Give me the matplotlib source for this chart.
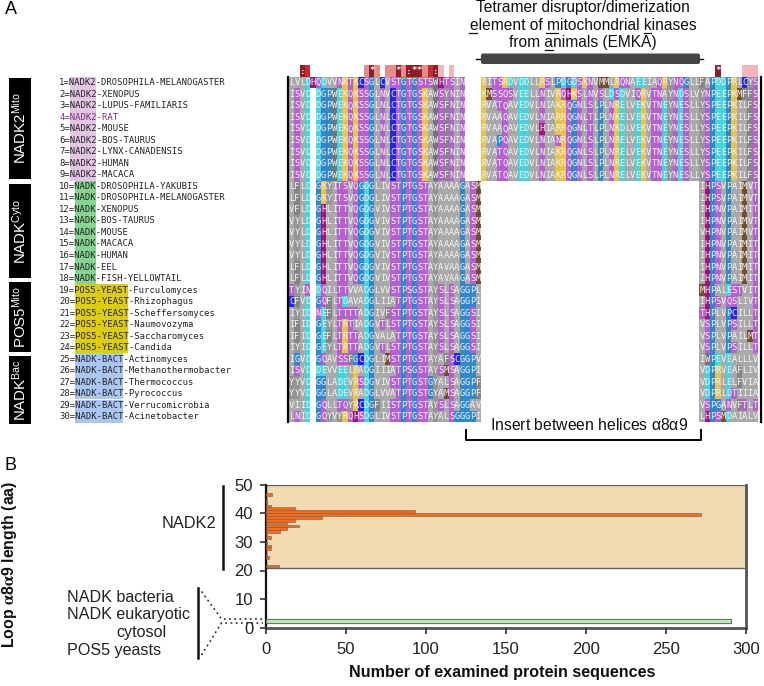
import matplotlib
matplotlib.use("Agg")
import matplotlib.pyplot as plt
from matplotlib.colors import ListedColormap
from matplotlib.patches import Rectangle, FancyBboxPatch
import numpy as np

plt.rcParams['font.family'] = ['Liberation Sans', 'DejaVu Sans']
plt.rcParams['mathtext.fontset'] = 'stix'
plt.rcParams['mathtext.default'] = 'regular'

# ---------- data ----------
row_groups = ['NADK2'] * 9 + ['NADK'] * 9 + ['POS5-YEAST'] * 6 + ['NADK-BACT'] * 6
row_species = ['DROSOPHILA-MELANOGASTER', 'XENOPUS', 'LUPUS-FAMILIARIS', 'RAT', 'MOUSE', 'BOS-TAURUS',
               'LYNX-CANADENSIS', 'HUMAN', 'MACACA',
               'DROSOPHILA-YAKUBIS', 'DROSOPHILA-MELANOGASTER', 'XENOPUS', 'BOS-TAURUS', 'MOUSE', 'MACACA',
               'HUMAN', 'EEL', 'FISH-YELLOWTAIL',
               'Furculomyces', 'Rhizophagus', 'Scheffersomyces', 'Naumovozyma', 'Saccharomyces', 'Candida',
               'Actinomyces', 'Methanothermobacter', 'Thermococcus', 'Pyrococcus', 'Verrucomicrobia',
               'Acinetobacter']

mito_left = ['LVLDHQDVVNKTKCSGLCVSTGTGSTSWHTSIN',
             'ISVD-DGPWEKQKSSGLNVCTGTGSKAWSYNIN',
             'ISVD-DGPWEKQKSSGLNLCTGTGSKAWSFNIN',
             'ISVD-DGPWEKQKSSGLNLCTGTGSKAWSFNIN',
             'ISVD-DGPWEKQKSSGLNLCTGTGSKAWSFNIN',
             'ISVD-DGPWEKQKSSGLNLCTGTGSKAWSFNIN',
             'ISVD-DGPWEKQKSSGLNLCTGTGSKAWSFNIN',
             'ISVD-DGPWEKQKSSGLNLCTGTGSKAWSFNIN',
             'ISVD-DGPWEKQKSSGLNLCTGTGSKAWSFNIN']
mito_right = ['RITSRDVDDLLRSLPDGDSKNVMMLRQNAEEIAQRYNQGLLFAPDDPRLCYS',
              'KMSSQSVEELLNIVRQHKSLNVSLDSDVIQRVTNAYNDSLVYNPEEPKMFFS',
              'RVATQAVEDVLNIAKRQGNLSLPLNRELVEKVTNEYNESLLYSPEEPKILFS',
              'RVAAQAVEDVLNIARRQGNLTLPLNKELVEKVTNEYNESLLYSPEEPKILFS',
              'RVAAQAVEDVLHIARRQGNLTLPLNKDLVEKVTNEYNESLLYSPEEPKILFS',
              'RVAPQAVEDVLNIANRQGNLSLPLNRELVEKVTNEYNESLLYSPEEPKILFS',
              'RVATQAVEDVLNIAKRQGNLSLPLNRELVEKVTNEYNESLLYSPEEPKILFS',
              'RVATQAVEDVLNIAKRQGNLSLPLNRELVEKVTNEYNESLLYSPEEPKILFS',
              'RVATQAVEDVLNIAKRQGNLSLPLNRELVEKVTNEYNESLLYSPEEPKILFS']
other_left = ['LFLD-GKYITSVQGDGLIVSTPTGSTAYAAAAGASM',
              'LFLD-GKYITSVQGDGLIVSTPTGSTAYAAAAGASM',
              'VFLD-GHLITTVQGDGVIVSTPTGSTAYAAAAGASM',
              'VYLD-GHLITTVQGDGVIVSTPTGSTAYAAAAGASM',
              'VYLD-GHLITTVQGDGVIVSTPTGSTAYAAAAGASM',
              'VYLD-GHLITTVQGDGVIVSTPTGSTAYAAAAGASM',
              'VYLD-GHLITTVQGDGVIVSTPTGSTAYAAAAGASM',
              'LFLD-GHLITTVQGDGVIVSTPTGSTAYAVAAGASM',
              'LFLD-GHLITTVQGDGVIVSTPTGSTAYAVAAGASM',
              'TYIN-DQILTTVVADGLVVSTPSGSTAYSLSAGGPL',
              'CFVD-GQFLTDAVADGLIIATPTGSTAYSLSAGGPI',
              'IYID-NEFLTTTTADGIVFSTPTGSTAYSLSAGGSI',
              'IFID-GEYLTRTIADGVTLSTPTGSTAYSLSAGGSI',
              'IFID-GEFLTRTTADGVALATPTGSTAYSLSAGGSI',
              'IYID-GEYLTRTTADGVTLSTPTGSTAYSLSAGGSI',
              'IGVD-GQAVSSFGCDGLIMSTPTGSTAYAFSCGGPV',
              'ISVD-DEVVEELRADGIIIATPSGSTAYSMSAGGPI',
              'YYVD-GGLADEVRSDGVIVSTPTGSTGYALSAGGPF',
              'YYVD-GGLADEVRADGLVVATPTGSTGYAMSAGGPF',
              'VIID-GQLLTQYRCDGFIISTPTGSTAYSLSAGGAV',
              'LNID-GQYVYRQHSDGLIVSTPTGSTAYALSGGGPI']
other_right = ['IHPSVPAIMVT', 'IHPSVPAIMVT', 'IHPNVPAIMIT', 'IHPNVPAIMVT', 'VHPNVPAIMVT', 'IHPNVPAIMIT',
               'IHPNVPAIMIT', 'IHPNVPAIMIT', 'IHPNVPAIMIT', 'MHPALESTVIT', 'IHPSVQSLIVT', 'THPLVPCILLT',
               'VSPLVPSILLT', 'VSPLVPAILMT', 'VSPLVPSILLT', 'IWPEVEALLLV', 'VDPRVEAFLIV', 'VDPRLELFVIA',
               'VDPRLDTIIIA', 'VSPGANVFTLT', 'LHPSMDAIALV']

cons_columns = [2, 3, 14, 15, 16, 18, 19, 20, 21, 22, 23, 24, 25, 26, 27, 28, 30, 80, 85, 86, 87]
cons_levels = [3, 2, 1, 3, 1, 1, 1, 3, 1, 3, 3, 3, 1, 2, 3, 0, 0, 3, 0, 0, 0]
cons_marks = [':', '', '', '*', '', '', '', '*', '', ':', '*', '*', '', '', ':', '', '', '*', '', '', '']

family_labels = ['NADK2$^{Mito}$', 'NADK$^{Cyto}$', 'POS5$^{Mito}$', 'NADK$^{Bac}$']

loop_lengths = [46, 44, 43, 42, 41, 40, 39, 38, 37, 36, 35, 34, 33, 32, 31, 29, 28, 27, 25, 24, 21]
loop_counts = [4, 1, 1, 3, 18, 93, 272, 35, 18, 13, 21, 13, 9, 1, 3, 1, 3, 3, 1, 2, 8]
short_loop_lengths = [2]
short_loop_counts = [291]
x_ticks = [0, 50, 100, 150, 200, 250, 300]
y_ticks = [0, 10, 20, 30, 40, 50]

# ---------- colours ----------
residue_colors = {'-': '#ffffff', 'A': '#a9a9a9', 'I': '#a9a9a9', 'L': '#a9a9a9', 'V': '#a9a9a9',
                  'F': '#858585', 'W': '#757575', 'Y': '#959595',
                  'S': '#b65fd2', 'T': '#b65fd2', 'N': '#b65fd2', 'Q': '#b65fd2',
                  'D': '#46d3de', 'E': '#46d3de',
                  'G': '#2f87cc', 'P': '#2f87cc',
                  'K': '#e6c350', 'R': '#e6c350',
                  'H': '#a0127c', 'C': '#2424ee', 'M': '#744e2a'}
residues = list(residue_colors)
group_colors = {'NADK2': '#e3c6e3', 'NADK': '#85d491', 'POS5-YEAST': '#dccd10', 'NADK-BACT': '#abc6f1'}
cons_colors = ['#f2b6b6', '#e68c8c', '#bf2f30', '#8f1c26']

W, H = 764, 686
fig = plt.figure(figsize=(W / 100, H / 100), dpi=100)


def pixel_axes(x0, y0, x1, y1, **kw):
    return fig.add_axes([x0 / W, 1 - y1 / H, (x1 - x0) / W, (y1 - y0) / H], **kw)


ov = pixel_axes(0, 0, W, H, zorder=5)
ov.set_xlim(0, W)
ov.set_ylim(H, 0)
ov.axis('off')
ov.patch.set_alpha(0)

# ---------- alignment ----------
gap_run = 77 - 36
rows = [l + '---' + r for l, r in zip(mito_left, mito_right)] + \
       [l + '-' * gap_run + r for l, r in zip(other_left, other_right)]
n_cols = len(rows[0])
n_rows = len(rows)
codes = np.array([[residues.index(c) for c in row] for row in rows])

al_x0, al_x1 = 289, 758
row_step = 11.52
al_y0 = 82.7 - row_step / 2
al_y1 = 416.7 + row_step / 2
al = pixel_axes(al_x0, al_y0, al_x1, al_y1)
al.pcolormesh(np.arange(n_cols + 1), np.arange(n_rows + 1), codes,
              cmap=ListedColormap([residue_colors[r] for r in residues]),
              vmin=-0.5, vmax=len(residues) - 0.5)
al.set_xlim(0, n_cols)
al.set_ylim(n_rows, 0)
al.axis('off')
for i, row in enumerate(rows):
    for j, c in enumerate(row):
        if c != '-':
            al.text(j + 0.5, i + 0.52, c, color='#f4f4f4', ha='center', va='center',
                    family='DejaVu Sans Mono', fontsize=6.3)

col_w = (al_x1 - al_x0) / n_cols
ov.plot([288, 288], [76.5, 422], color='black', lw=1.6)
ov.plot([761, 761], [76.5, 422], color='black', lw=1.6)

# conservation row
for col, lev, mark in zip(cons_columns, cons_levels, cons_marks):
    xc = al_x0 + col * col_w
    ov.add_patch(Rectangle((xc, 65), col_w, 11.5, facecolor=cons_colors[lev], edgecolor='none'))
    if mark:
        ov.text(xc + col_w / 2, 71, mark, color='white', ha='center', va='center',
                family='DejaVu Sans Mono', fontsize=6.5, fontweight='bold')

# ---------- row labels ----------
char_w = 5.34
label_x = 59
for i, (g, sp) in enumerate(zip(row_groups, row_species)):
    y = 82.7 + i * row_step
    prefix = f'{i + 1}='
    ov.add_patch(Rectangle((label_x + len(prefix) * char_w, y - row_step / 2), len(g) * char_w, row_step,
                           facecolor=group_colors[g], edgecolor='none', zorder=1))
    ov.text(label_x, y, f'{prefix}{g}-{sp}', family='DejaVu Sans Mono', fontsize=6.4,
            color='#7a2d7a' if sp == 'RAT' else '#222222', va='center', ha='left', zorder=2)

# ---------- family boxes ----------
box_spans = [(78, 179), (184, 278), (282, 352), (356, 424)]
for (y0, y1), lab in zip(box_spans, family_labels):
    ov.add_patch(Rectangle((8.5, y0), 22.5, y1 - y0, facecolor='black', edgecolor='none'))
    ov.text(20, (y0 + y1) / 2, lab, color='white', rotation=90, ha='center', va='center', fontsize=10.8)

# ---------- EMKA annotation ----------
ov.text(11, 10, 'A', fontsize=13, ha='center', va='center')
ov.text(11, 465, 'B', fontsize=13, ha='center', va='center')
for y, s in [(7.5, 'Tetramer disruptor/dimerization'), (25, 'element of mitochondrial kinases'),
             (42.5, 'from animals (EMKA)')]:
    ov.text(583, y, s, fontsize=11.2, ha='center', va='center', color='#111111')
for x0, x1, y in [(469, 477, 32.5), (546, 558, 32.5), (644, 651, 32.5), (545, 553, 49.5)]:
    ov.plot([x0, x1], [y, y], color='#111111', lw=0.9)
ov.plot([476, 703], [58.5, 58.5], color='black', lw=1)
ov.add_patch(FancyBboxPatch((481, 53.5), 219, 10.5, boxstyle='round,pad=0,rounding_size=2',
                            facecolor='#444444', edgecolor='none', zorder=3))

# ---------- insert bracket ----------
ov.text(589, 425, 'Insert between helices $\\alpha$8$\\alpha$9', fontsize=11.3, ha='center', va='center',
        color='#111111')
ov.plot([466, 466, 700.5, 700.5], [430, 440, 440, 430], color='black', lw=1.4)

# ---------- bar chart ----------
ax = pixel_axes(265.7, 484.7, 745.7, 627.7, zorder=2)
ax.set_xlim(0, 300)
ax.set_ylim(0, 50)
ax.add_patch(Rectangle((0, 21), 300, 29, facecolor='#f2dab2', edgecolor='#666666', lw=1, zorder=1))
ax.barh(np.array(loop_lengths) + 0.6, loop_counts, height=0.95, color='#f26b21', edgecolor='#7a5a40',
        lw=0.4, zorder=3)
ax.barh(np.array(short_loop_lengths) + 0.3, short_loop_counts, height=1.5, color='#bdf0b4',
        edgecolor='#6a7a68', lw=0.9, zorder=3)
ax.set_xticks(x_ticks)
ax.set_yticks(y_ticks)
ax.tick_params(axis='both', labelsize=12, length=4, width=1.2, color='#333333', labelcolor='#222222')
ax.tick_params(axis='x', pad=6)
ax.tick_params(axis='y', pad=5)
for side, lw, col in [('left', 1.6, '#111111'), ('bottom', 2, '#555555'), ('right', 2, '#555555')]:
    ax.spines[side].set_linewidth(lw)
    ax.spines[side].set_color(col)
ax.spines['top'].set_visible(False)
ax.set_axisbelow(False)

ov.text(502, 673, 'Number of examined protein sequences', fontsize=11.6, fontweight='bold',
        ha='center', va='center', color='#111111')
ov.text(10, 564, 'Loop $\\mathbf{\\alpha}$8$\\mathbf{\\alpha}$9 length (aa)', fontsize=11.4, fontweight='bold',
        rotation=90, ha='center', va='center', color='#111111')

# side annotations
ov.text(189, 524, 'NADK2', fontsize=11.8, ha='center', va='center', color='#222222')
ov.plot([223, 223], [486, 569], color='#111111', lw=1.8)
ov.text(67, 597, 'NADK bacteria', fontsize=11.6, ha='left', va='center', color='#222222')
ov.text(67, 615, 'NADK eukaryotic', fontsize=11.6, ha='left', va='center', color='#222222')
ov.text(116, 633, 'cytosol', fontsize=11.6, ha='left', va='center', color='#222222')
ov.text(67, 651, 'POS5 yeasts', fontsize=11.6, ha='left', va='center', color='#222222')
ov.plot([198, 198], [588, 658], color='#111111', lw=1.8)
ov.plot([201.5, 221.5, 263], [591.5, 619, 619], color='#222222', lw=1.1, ls=(0, (1.2, 2.2)))
ov.plot([201.5, 221.5, 263], [655, 623, 623], color='#222222', lw=1.1, ls=(0, (1.2, 2.2)))

fig.savefig('out.png', dpi=100)
